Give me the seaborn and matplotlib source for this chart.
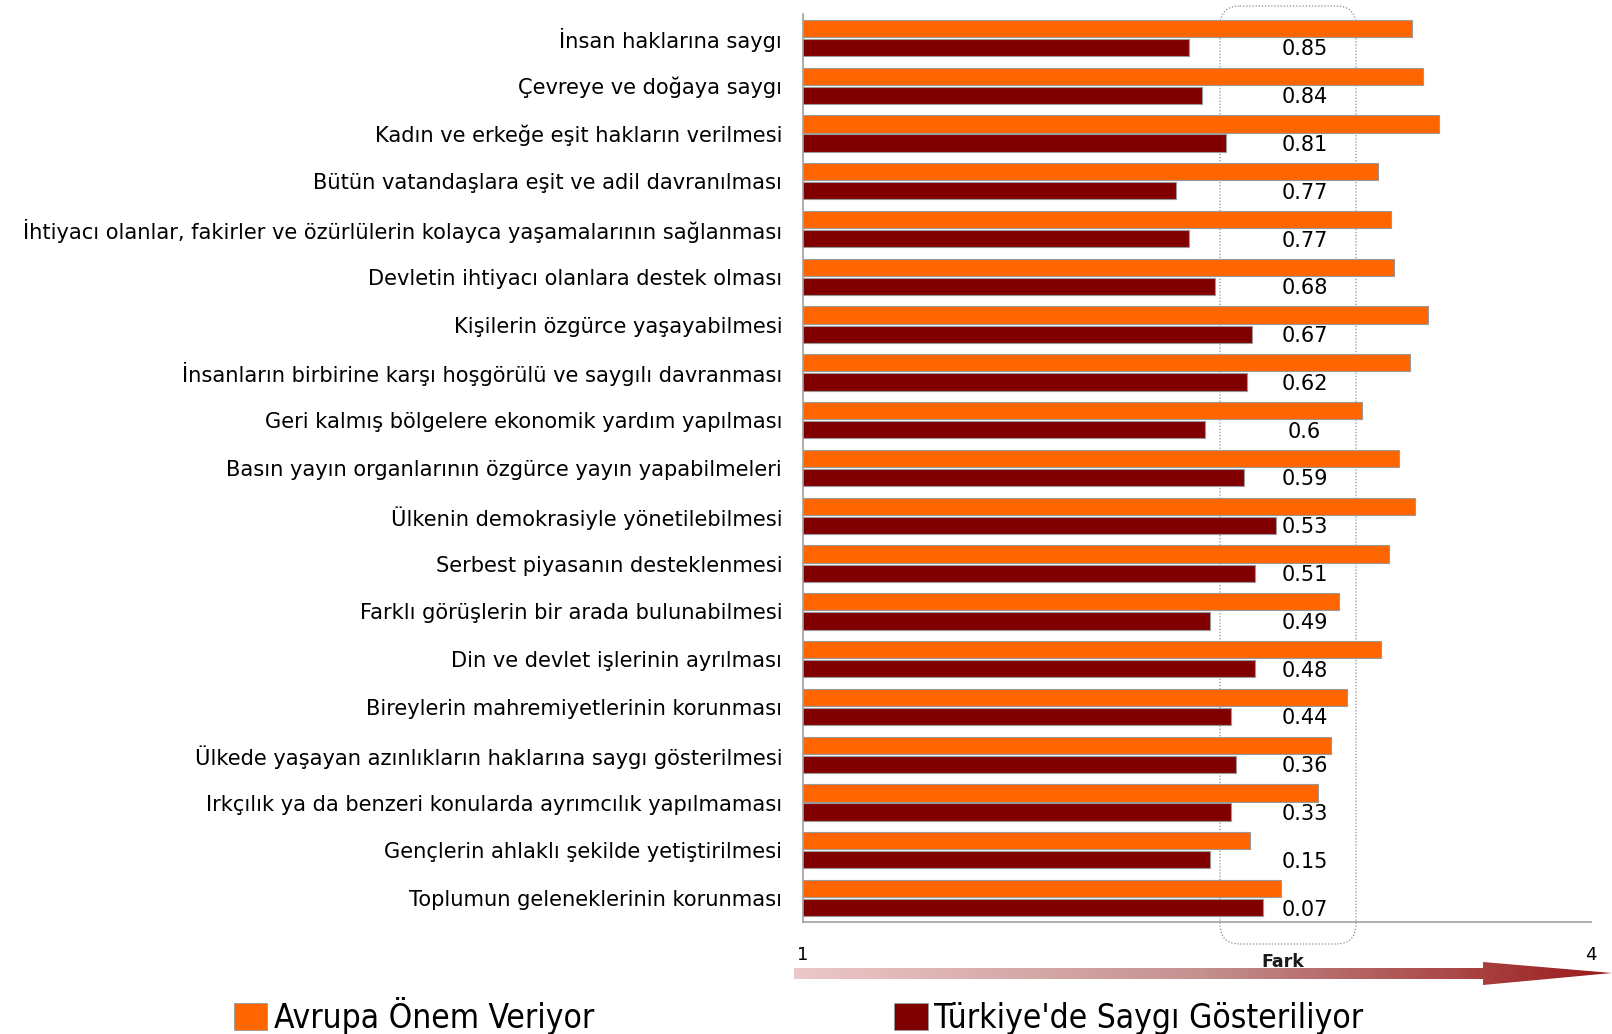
import matplotlib
matplotlib.use("Agg")

import matplotlib.pyplot as plt
import numpy as np
import pandas as pd
import seaborn as sns
from matplotlib.font_manager import FontProperties
from matplotlib.patches import FancyBboxPatch, Polygon, Patch

# -- data ------------------------------------------------------------
ITEMS = [
    "İnsan haklarına saygı",
    "Çevreye ve doğaya saygı",
    "Kadın ve erkeğe eşit hakların verilmesi",
    "Bütün vatandaşlara eşit ve adil davranılması",
    "İhtiyacı olanlar, fakirler ve özürlülerin kolayca yaşamalarının sağlanması",
    "Devletin ihtiyacı olanlara destek olması",
    "Kişilerin özgürce yaşayabilmesi",
    "İnsanların birbirine karşı hoşgörülü ve saygılı davranması",
    "Geri kalmış bölgelere ekonomik yardım yapılması",
    "Basın yayın organlarının özgürce yayın yapabilmeleri",
    "Ülkenin demokrasiyle yönetilebilmesi",
    "Serbest piyasanın desteklenmesi",
    "Farklı görüşlerin bir arada bulunabilmesi",
    "Din ve devlet işlerinin ayrılması",
    "Bireylerin mahremiyetlerinin korunması",
    "Ülkede yaşayan azınlıkların haklarına saygı gösterilmesi",
    "Irkçılık ya da benzeri konularda ayrımcılık yapılmaması",
    "Gençlerin ahlaklı şekilde yetiştirilmesi",
    "Toplumun geleneklerinin korunması",
]
AVRUPA = [3.32, 3.36, 3.42, 3.19, 3.24, 3.25, 3.38, 3.31, 3.13, 3.27,
          3.33, 3.23, 3.04, 3.20, 3.07, 3.01, 2.96, 2.70, 2.82]
TURKIYE = [2.47, 2.52, 2.61, 2.42, 2.47, 2.57, 2.71, 2.69, 2.53, 2.68,
           2.80, 2.72, 2.55, 2.72, 2.63, 2.65, 2.63, 2.55, 2.75]
FARK = ["0.85", "0.84", "0.81", "0.77", "0.77", "0.68", "0.67", "0.62", "0.6", "0.59",
        "0.53", "0.51", "0.49", "0.48", "0.44", "0.36", "0.33", "0.15", "0.07"]
SERIES = ["Avrupa Önem Veriyor", "Türkiye'de Saygı Gösteriliyor"]
COLORS = ["#FF6600", "#800000"]

W, H = 1612, 1034

sns.set_style("white")
plt.rcParams["font.family"] = ["DejaVu Sans"]
plt.rcParams["text.color"] = "black"
plt.rcParams["xtick.color"] = "black"
plt.rcParams["ytick.color"] = "black"

df = pd.DataFrame({
    "item": ITEMS * 2,
    "value": AVRUPA + TURKIYE,
    "group": [SERIES[0]] * len(ITEMS) + [SERIES[1]] * len(ITEMS),
})

fig = plt.figure(figsize=(W / 100, H / 100), dpi=100)

# overlay in pixel coords for box, arrow and notes
over = fig.add_axes([0, 0, 1, 1], zorder=0)
over.set_xlim(0, W)
over.set_ylim(H, 0)
over.axis("off")

ax = fig.add_axes([803 / W, 1 - 922 / H, 788 / W, 908 / H], zorder=1)
ax.patch.set_alpha(0)

sns.barplot(data=df, x="value", y="item", hue="group", palette=COLORS, saturation=1,
            orient="h", width=0.8, gap=0.1, edgecolor="#9a9a9a", linewidth=0.8,
            legend=False, ax=ax)

ax.set_xlim(1, 4)
ax.set_ylim(len(ITEMS) - 0.5, -0.5)
ax.set_xlabel("")
ax.set_ylabel("")
ax.set_xticks([1, 4])
ax.set_xticklabels(["1", "4"], fontsize=13)
ax.tick_params(axis="x", length=0, pad=17)
ax.tick_params(axis="y", length=0, labelsize=15.1, pad=15)
ax.set_yticks(np.arange(len(ITEMS)) - 0.5, minor=True)
ax.tick_params(axis="y", which="minor", length=6, color="#a0a0a0", direction="out")
for s in ["top", "right"]:
    ax.spines[s].set_visible(False)
for s in ["left", "bottom"]:
    ax.spines[s].set_color("#a0a0a0")
    ax.spines[s].set_linewidth(1.2)

# difference labels
for i, t in enumerate(FARK):
    ax.text(2.91, i + 0.24, t, ha="center", va="center", fontsize=15, color="black")

# dotted rounded "Fark" box
box = FancyBboxPatch((1220, 6), 136, 938, boxstyle="round,pad=0,rounding_size=20",
                     fill=False, edgecolor="#8a8a8a", linestyle=(0, (1, 1.5)),
                     linewidth=0.9, zorder=0.5)
over.add_patch(box)
over.text(1283, 962, "Fark", ha="center", va="center", fontsize=12.5,
          fontweight="bold", color="#1a1a1a")

# gradient arrow
arrow = Polygon([(794, 968), (1483, 968), (1483, 962), (1612, 973),
                 (1483, 985), (1483, 979), (794, 979)], closed=True,
                facecolor="none", edgecolor="none")
over.add_patch(arrow)
grad = np.linspace(0, 1, 256).reshape(1, -1)
cmap = matplotlib.colors.LinearSegmentedColormap.from_list(
    "fark", ["#ecc8c8", "#c49090", "#9a1a1a"])
im = over.imshow(grad, cmap=cmap, aspect="auto", extent=(794, 1612, 986, 961),
                 zorder=1)
im.set_clip_path(arrow)
over.set_xlim(0, W)
over.set_ylim(H, 0)

# legend
handles = [Patch(facecolor=c, edgecolor="#9a9a9a", linewidth=0.6) for c in COLORS]
legend_font = FontProperties(family="DejaVu Sans", stretch="condensed", size=24)
fig.legend(handles, SERIES, loc="center left", bbox_to_anchor=(234 / W, 1 - 1016 / H),
           ncol=2, frameon=False, prop=legend_font,
           handlelength=1.0, handleheight=0.85, handletextpad=0.2, columnspacing=9.0,
           borderaxespad=0, borderpad=0)

fig.savefig("out.png", dpi=100)
